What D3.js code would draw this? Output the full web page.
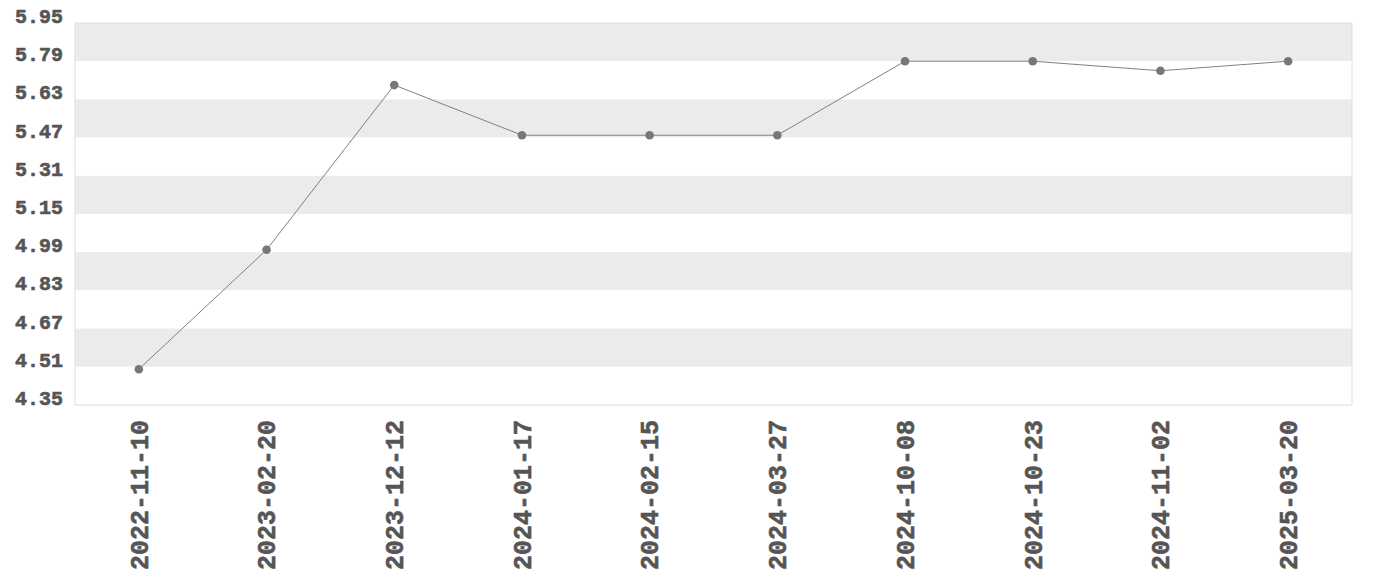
<!DOCTYPE html>
<html>
<head>
<meta charset="utf-8">
<script src="https://cdn.jsdelivr.net/npm/d3@7"></script>
<style>
  body { margin: 0; background: #fff; }
  text { font-family: "Liberation Mono", monospace; font-weight: bold; fill: #555; stroke: #555; stroke-width: 0.6px; }
</style>
</head>
<body>
<script>
var dates = ["2022-11-10", "2023-02-20", "2023-12-12", "2024-01-17", "2024-02-15",
             "2024-03-27", "2024-10-08", "2024-10-23", "2024-11-02", "2025-03-20"];
var values = [4.5, 5.0, 5.69, 5.48, 5.48, 5.48, 5.79, 5.79, 5.75, 5.79];
var yTicks = [4.35, 4.51, 4.67, 4.83, 4.99, 5.15, 5.31, 5.47, 5.63, 5.79, 5.95];

var width = 1380, height = 580;
var margin = {top: 23, right: 28, bottom: 175, left: 75};
var w = width - margin.left - margin.right,
    h = height - margin.top - margin.bottom;

var svg = d3.select("body").append("svg")
  .attr("width", width)
  .attr("height", height);

var g = svg.append("g").attr("transform", `translate(${margin.left},${margin.top})`);

var x = d3.scalePoint().domain(dates).range([0, w]).padding(0.5);
var y = d3.scaleLinear().domain([yTicks[0], yTicks[yTicks.length - 1]]).range([h, 0]);

// alternating bands, grey from the top
var bands = d3.pairs(yTicks).reverse();
g.append("g")
  .selectAll("rect")
  .data(bands)
  .enter()
  .append("rect")
  .attr("x", 0)
  .attr("width", w)
  .attr("y", d => y(d[1]))
  .attr("height", d => y(d[0]) - y(d[1]))
  .attr("fill", (d, i) => i % 2 == 0 ? "#ebebeb" : "#fff");

g.append("rect")
  .attr("width", w)
  .attr("height", h)
  .attr("fill", "none")
  .attr("stroke", "#ddd")
  .attr("stroke-width", 1);

// y labels
g.append("g")
  .selectAll("text")
  .data(yTicks)
  .enter()
  .append("text")
  .attr("x", -12)
  .attr("y", d => y(d) - 7)
  .attr("dy", "0.35em")
  .attr("text-anchor", "end")
  .style("font-size", "20px")
  .text(d => d3.format(".2f")(d));

// x labels
g.append("g")
  .selectAll("text")
  .data(dates)
  .enter()
  .append("text")
  .attr("transform", d => `translate(${x(d)},${h + 15}) rotate(-90)`)
  .attr("text-anchor", "end")
  .attr("dy", "0.35em")
  .style("font-size", "25px")
  .text(d => d);

var line = d3.line()
  .x((d, i) => x(dates[i]))
  .y(d => y(d));

g.append("path")
  .datum(values)
  .attr("d", line)
  .attr("fill", "none")
  .attr("stroke", "#808080")
  .attr("stroke-width", 1);

g.append("g")
  .selectAll("circle")
  .data(values)
  .enter()
  .append("circle")
  .attr("cx", (d, i) => x(dates[i]))
  .attr("cy", d => y(d))
  .attr("r", 4.3)
  .attr("fill", "#777");
</script>
</body>
</html>
